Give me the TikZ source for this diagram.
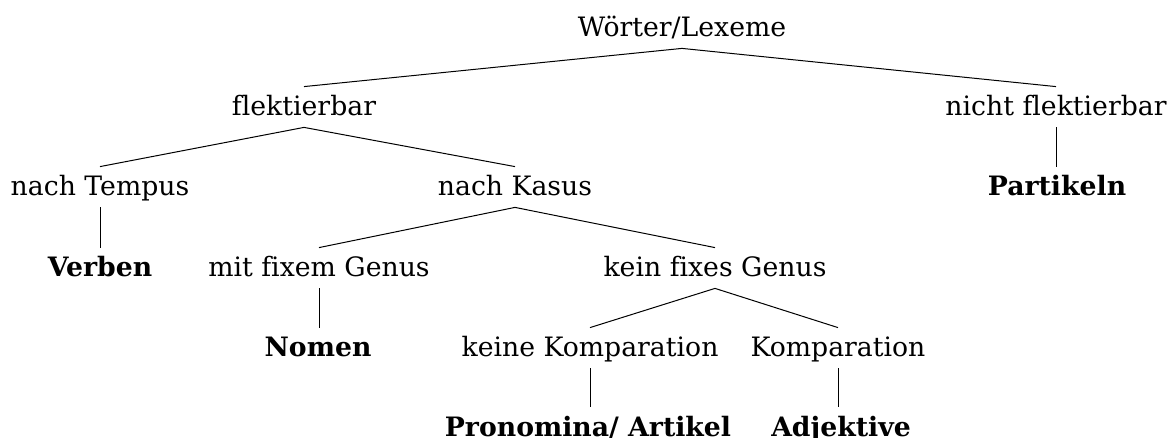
\documentclass[tikz,border=0pt]{standalone}
\usepackage{fontspec}
\setmainfont[Ligatures=NoCommon]{DejaVu Serif}
\usetikzlibrary{positioning}
\tikzstyle{word} = [inner sep=0pt, minimum height=20pt, text height=10.5pt, text depth=1.5pt, font=\fontsize{13.35}{16}\selectfont]
\tikzstyle{class} = [word, font=\fontsize{13.35}{16}\selectfont\bfseries]
\tikzstyle{edge} = [draw=black, line width=0.5pt]

\begin{document}
\begin{tikzpicture}[x=0.5pt, y=-0.5pt]

    \useasboundingbox (0, 0) rectangle (1167, 438);

    \node (root) [word] at (682, 28) {Wörter/Lexeme};
    \node (flekt) [word] at (304, 107) {flektierbar};
    \node (nflekt) [word] at (1056, 107) {nicht flektierbar};
    \node (tempus) [word] at (100, 187) {nach Tempus};
    \node (kasus) [word] at (515, 187) {nach Kasus};
    \node (partikeln) [class] at (1057, 187) {Partikeln};
    \node (verben) [class] at (100, 268) {Verben};
    \node (fixgenus) [word] at (319, 268) {mit fixem Genus};
    \node (nofixgenus) [word] at (715, 268) {kein fixes Genus};
    \node (nomen) [class] at (318, 348) {Nomen};
    \node (nokomp) [word] at (590, 348) {keine Komparation};
    \node (komp) [word] at (838, 348) {Komparation};
    \node (pronomina) [class] at (588, 427) {Pronomina/ Artikel};
    \node (adjektive) [class] at (841, 427) {Adjektive};

    \draw [edge] (flekt.north) -- (root.south) -- (nflekt.north);
    \draw [edge] (tempus.north) -- (flekt.south) -- (kasus.north);
    \draw [edge] (nflekt.south) -- (partikeln.north -| nflekt.south);
    \draw [edge] (tempus.south) -- (verben.north -| tempus.south);
    \draw [edge] (fixgenus.north) -- (kasus.south) -- (nofixgenus.north);
    \draw [edge] (fixgenus.south) -- (nomen.north -| fixgenus.south);
    \draw [edge] (nokomp.north) -- (nofixgenus.south) -- (komp.north);
    \draw [edge] (nokomp.south) -- (pronomina.north -| nokomp.south);
    \draw [edge] (komp.south) -- (adjektive.north -| komp.south);

\end{tikzpicture}
\end{document}
